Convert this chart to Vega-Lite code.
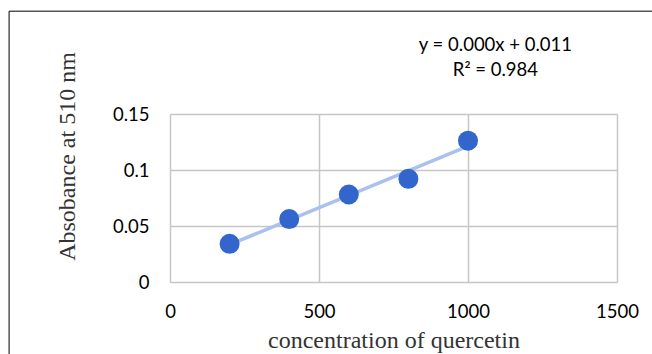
{
  "$schema": "https://vega.github.io/schema/vega-lite/v6.json",
  "width": 447,
  "height": 168,
  "autosize": {"type": "none"},
  "padding": {"left": 170, "top": 114, "right": 35, "bottom": 72},
  "background": "white",
  "config": {
    "view": {"stroke": null},
    "axis": {
      "grid": true,
      "gridColor": "#c6c6c6",
      "gridWidth": 1.5,
      "domain": false,
      "ticks": false,
      "labelFlush": false,
      "labelOverlap": false,
      "labelFont": "Lato",
      "labelFontSize": 18.5,
      "labelColor": "#000000",
      "titleFont": "Liberation Serif",
      "titleFontWeight": "normal",
      "titleFontSize": 24,
      "titleColor": "#333333"
    }
  },
  "data": {
    "values": [
      {"concentration": 200, "absorbance": 0.0341},
      {"concentration": 400, "absorbance": 0.0562},
      {"concentration": 600, "absorbance": 0.0781},
      {"concentration": 800, "absorbance": 0.0921},
      {"concentration": 1000, "absorbance": 0.1262}
    ]
  },
  "layer": [
    {
      "data": {"values": [{}]},
      "mark": {"type": "rule", "color": "#000000", "strokeWidth": 1, "clip": false},
      "encoding": {
        "x": {"datum": -540},
        "y": {"datum": 0.2418},
        "y2": {"datum": -0.1}
      }
    },
    {
      "data": {"values": [{}]},
      "mark": {"type": "rule", "color": "#000000", "strokeWidth": 1, "clip": false},
      "encoding": {
        "y": {"datum": 0.2418},
        "x": {"datum": -540},
        "x2": {"datum": 2200}
      }
    },
    {
      "transform": [{"regression": "absorbance", "on": "concentration", "method": "linear"}],
      "mark": {"type": "line", "color": "#a9c1ec", "strokeWidth": 3.5},
      "encoding": {
        "x": {"field": "concentration", "type": "quantitative"},
        "y": {"field": "absorbance", "type": "quantitative"}
      }
    },
    {
      "mark": {"type": "point", "shape": "circle", "filled": true, "opacity": 1, "color": "#3366cc", "size": 400},
      "encoding": {
        "x": {
          "field": "concentration",
          "type": "quantitative",
          "scale": {"domain": [0, 1500], "nice": false},
          "axis": {
            "values": [0, 500, 1000, 1500],
            "format": "d",
            "labelPadding": 20,
            "title": "concentration of quercetin",
            "titleBaseline": "alphabetic",
            "titleY": 65
          }
        },
        "y": {
          "field": "absorbance",
          "type": "quantitative",
          "scale": {"domain": [0, 0.15], "nice": false},
          "axis": {
            "values": [0, 0.05, 0.1, 0.15],
            "format": ".2~f",
            "labelPadding": 21,
            "title": "Absobance at 510 nm",
            "titleBaseline": "middle",
            "titleX": -103,
            "titleY": 42
          }
        }
      }
    },
    {
      "data": {"values": [{}]},
      "mark": {"type": "text", "font": "Lato", "fontSize": 18.5, "fontWeight": "normal", "color": "#000000", "align": "center", "baseline": "alphabetic", "lineHeight": 25, "clip": false},
      "encoding": {
        "x": {"datum": 1092},
        "y": {"datum": 0.2062},
        "text": {"value": ["y = 0.000x + 0.011", "R² = 0.984"]}
      }
    }
  ]
}
